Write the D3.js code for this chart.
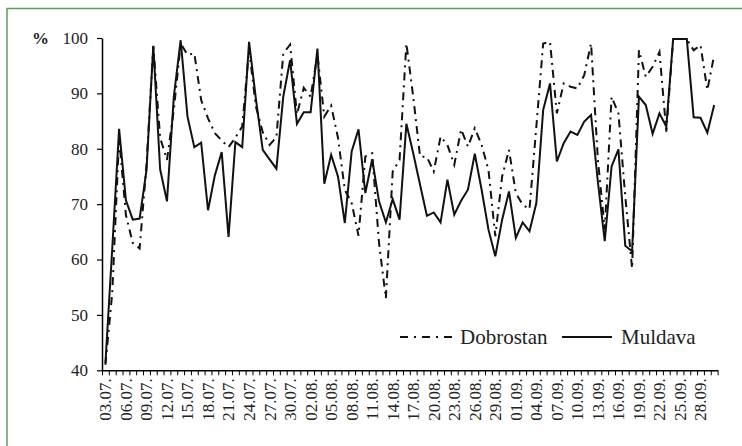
<!DOCTYPE html>
<html>
<head>
<meta charset="utf-8">
<script src="https://cdn.jsdelivr.net/npm/d3@7"></script>
<style>
  body { margin: 0; background: #fff; }
  svg { display: block; }
  svg text { font-family: "Liberation Serif", "Times New Roman", Times, serif !important; }
</style>
</head>
<body>
<svg id="chart" width="742" height="446"></svg>
<script>
// ---- data ----
const startDay = "2024-07-03";
const dayCount = 90;
const dobrostan = [
  41, 54, 82, 68, 63, 62, 77, 98.5, 82, 78,
  87, 99, 97, 97.2, 88.8, 85.5, 82.8, 81.5, 80.3, 82,
  84, 98, 87.6, 83, 80.7, 82.1, 97.2, 98.8, 86.2, 91,
  89.4, 97, 85.8, 87.8, 82, 72.6, 70.2, 64.3, 78.6, 79.2,
  63, 53, 75.9, 78, 99, 89.4, 78.6, 78.5, 75.9, 82.2,
  80.7, 77.1, 83.5, 80.4, 83.7, 80.7, 76.2, 64.2, 75, 79.8,
  72, 69.9, 69.1, 84, 99, 99.3, 86.4, 91.8, 91.2, 90.9,
  93.3, 99, 78, 65.4, 89.4, 86.4, 71.4, 58.4, 97.8, 93,
  94.8, 97.5, 83.1, 99.8, 99.8, 99.8, 97.8, 98.7, 90.6, 96.9
];
const muldava = [
  41.3, 62, 83.6, 70.7, 67.2, 67.4, 76.1, 98.6, 76.3, 70.5,
  89.4, 99.6, 85.8, 80.3, 81.1, 68.9, 75.2, 79.4, 64.1, 81.2,
  80.3, 99.3, 89, 79.8, 78.1, 76.4, 89.4, 96, 84.5, 86.6,
  86.6, 98.1, 73.7, 78.9, 75, 66.6, 79.5, 83.5, 72, 78.1,
  70.5, 66.7, 70.9, 67.2, 84.5, 79.2, 73.5, 67.9, 68.5, 66.7,
  74.4, 68.1, 70.6, 72.6, 79.1, 72.6, 65.4, 60.6, 67.2, 72.3,
  63.9, 66.7, 65.1, 70.2, 87, 91.8, 77.7, 81, 83.1, 82.5,
  84.9, 86.1, 74, 63.3, 76.8, 79.9, 62.5, 61.5, 89.4, 87.9,
  82.7, 86.4, 84, 99.8, 99.8, 99.8, 85.7, 85.6, 82.9, 87.9
];
const yTicks = [40, 50, 60, 70, 80, 90, 100];
const labelEvery = 3;
const seriesNames = ["Dobrostan", "Muldava"];

// categories (dates)
const fmt = d3.timeFormat("%d.%m.");
const start = d3.timeParse("%Y-%m-%d")(startDay);
const dates = d3.range(dayCount).map(i => fmt(d3.timeDay.offset(start, i)));

// ---- layout ----
const svg = d3.select("#chart");
const mLeft = 102, mRight = 717.6, mTop = 38, mBottom = 370.3;

// frame
svg.append("rect").attr("x", 7).attr("y", 8.5).attr("width", 800).attr("height", 500)
  .attr("fill", "none").attr("stroke", "#5c9e5c").attr("stroke-width", 1.5);

const x = d3.scaleBand().domain(dates).range([mLeft, mRight]).paddingInner(0).paddingOuter(0);
const xi = d3.scaleLinear().domain([0, dayCount]).range([mLeft, mRight]);
const y = d3.scaleLinear().domain([40, 100]).range([mBottom, mTop]);

// y axis
const ya = svg.append("g").attr("transform", `translate(${mLeft},0)`)
  .call(d3.axisLeft(y).tickValues(yTicks).tickSize(5).tickPadding(9).tickSizeOuter(0));
ya.attr("font-family", null).attr("font-size", null);
ya.select(".domain").attr("stroke", "#000").attr("stroke-width", 1.5);
ya.selectAll(".tick line").attr("stroke", "#000").attr("stroke-width", 1.2);
ya.selectAll(".tick text").style("font-size", "17px").attr("fill", "#222");

svg.append("text").attr("x", 32).attr("y", mTop + 6)
  .style("font-size", "17px").attr("font-weight", "bold").attr("fill", "#222").text("%");

// x axis (ticks on category boundaries)
const xa = svg.append("g").attr("transform", `translate(0,${mBottom})`)
  .call(d3.axisBottom(xi).tickValues(d3.range(dayCount + 1)).tickSize(5).tickFormat("").tickSizeOuter(0));
xa.select(".domain").attr("stroke", "#000").attr("stroke-width", 1.5);
xa.selectAll(".tick line").attr("stroke", "#000").attr("stroke-width", 1);

svg.append("g").selectAll("text")
  .data(dates.filter((d, i) => i % labelEvery === 0))
  .join("text")
  .attr("transform", d => `translate(${x(d) + x.bandwidth() / 2},${mBottom + 8}) rotate(-90)`)
  .attr("text-anchor", "end").attr("dy", "0.35em")
  .style("font-size", "17px").attr("fill", "#222")
  .text(d => d);

// lines
const line = d3.line().x((d, i) => x(dates[i]) + x.bandwidth() / 2).y(d => y(d));
svg.append("path").datum(dobrostan).attr("d", line).attr("fill", "none")
  .attr("stroke", "#111").attr("stroke-width", 2).attr("stroke-dasharray", "8,5,2,5");
svg.append("path").datum(muldava).attr("d", line).attr("fill", "none")
  .attr("stroke", "#111").attr("stroke-width", 2);

// legend
const leg = [
  { name: seriesNames[0], dash: "8,6,2,6", x0: 400, x1: 452, tx: 460 },
  { name: seriesNames[1], dash: null, x0: 562, x1: 612, tx: 621 }
];
const lg = svg.append("g");
leg.forEach(l => {
  lg.append("line").attr("x1", l.x0).attr("x2", l.x1).attr("y1", 337).attr("y2", 337)
    .attr("stroke", "#111").attr("stroke-width", 2).attr("stroke-dasharray", l.dash);
  lg.append("text").attr("x", l.tx).attr("y", 344)
    .style("font-size", "21px").attr("fill", "#222").text(l.name);
});
</script>
</body>
</html>
